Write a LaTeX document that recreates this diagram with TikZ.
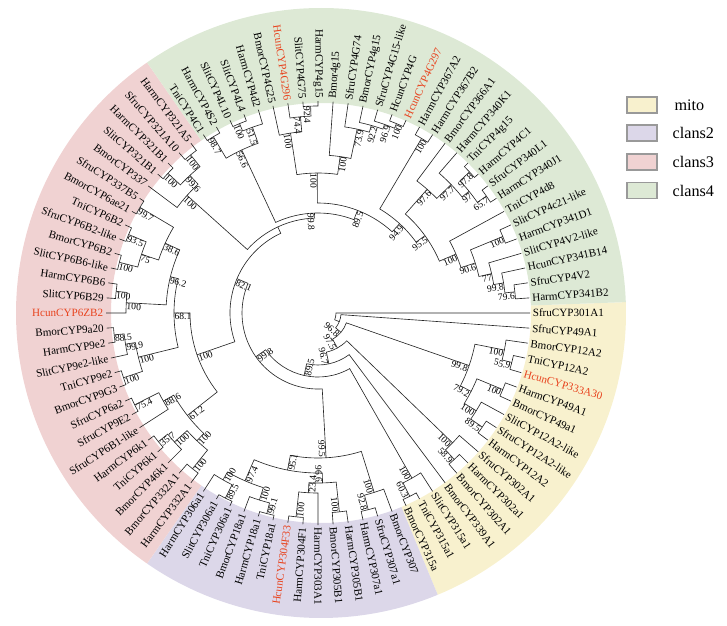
\documentclass[tikz,border=0pt]{standalone}
\usepackage{fontspec}
\setmainfont{Liberation Serif}
\usetikzlibrary{positioning}
\definecolor{mitocol}{HTML}{F8F1CE}
\definecolor{clantwo}{HTML}{DCD7E9}
\definecolor{clanthree}{HTML}{F0D2D2}
\definecolor{clanfour}{HTML}{DDE9D5}
\definecolor{hcunred}{HTML}{E8431E}

\begin{document}
\begin{tikzpicture}[
    x=0.025cm, y=0.025cm,
    br/.style={line width=0.45pt, draw=black!85},
    tip/.style={font=\fontsize{7.9}{9}\selectfont, inner sep=0.6pt, outer sep=0pt},
    boot/.style={font=\fontsize{6.8}{8}\selectfont, inner sep=0.4pt, outer sep=0pt},
    hcun/.style={text=hcunred},
    legbox/.style={draw=gray!80, line width=0.8pt, minimum width=0.75cm, minimum height=0.4cm, inner sep=0pt},
    legtxt/.style={font=\fontsize{11.5}{13}\selectfont, inner sep=0pt, anchor=west}
]
    \useasboundingbox (-318,-312) rectangle (409,313);

    % --- 1. macros ---
    % tip radius and label radius
    \newcommand{\tipR}{212}
    \newcommand{\labR}{214}

    % leaf: [style] name, index, text
    \newcommand{\tipleaf}[4][]{
        \pgfmathsetmacro{\lfang}{-(#3-1)*4.0909091}
        \expandafter\xdef\csname ta@#2\endcsname{\lfang}
        \coordinate (#2) at (\lfang:\tipR);
        \pgfmathtruncatemacro{\lfside}{(\lfang>-90.5)||(\lfang<-270.5)}
        \ifnum\lfside=1
            \node[tip, #1, rotate=\lfang, anchor=west] (#2t) at (\lfang:\labR) {#4};
        \else
            \pgfmathsetmacro{\lfrot}{\lfang+180}
            \node[tip, #1, rotate=\lfrot, anchor=east] (#2t) at (\lfang:\labR) {#4};
        \fi
    }

    % clade: name, child a, child b, radius, support
    \newcommand{\joinclade}[5]{
        \edef\cAng{\csname ta@#2\endcsname}
        \edef\cBng{\csname ta@#3\endcsname}
        \pgfmathsetmacro{\cMid}{(\cAng+\cBng)/2}
        \expandafter\xdef\csname ta@#1\endcsname{\cMid}
        \coordinate (#1) at (\cMid:#4);
        \draw[br] (#2) -- (\cAng:#4) arc[start angle=\cAng, end angle=\cBng, radius=#4] -- (#3);
        \if\relax\detokenize{#5}\relax\else
            \pgfmathtruncatemacro{\cSide}{(\cMid>-90.5)||(\cMid<-270.5)}
            \ifnum\cSide=1
                \node[boot, rotate=\cMid, anchor=north east] (#1b) at (#1) {#5};
            \else
                \pgfmathsetmacro{\cRot}{\cMid+180}
                \node[boot, rotate=\cRot, anchor=north west] (#1b) at (#1) {#5};
            \fi
        \fi
    }

    % coloured band: colour, from angle, to angle
    \newcommand{\clanband}[3]{
        \fill[#1, shift={(3,0)}] (#2:210) arc[start angle=#2, end angle=#3, radius=210]
            -- (#3:305) arc[start angle=#3, end angle=#2, radius=305] -- cycle;
    }

    % --- 2. bands ---
    \clanband{mitocol}{2.045}{-67.5}
    \clanband{clantwo}{-67.5}{-124.77}
    \clanband{clanthree}{-124.77}{-235.23}
    \clanband{clanfour}{-235.23}{-357.95}

    % --- 3. leaves ---
    % mito
    \tipleaf{lf1}{1}{SfruCYP301A1}
    \tipleaf{lf2}{2}{SfruCYP49A1}
    \tipleaf{lf3}{3}{BmorCYP12A2}
    \tipleaf{lf4}{4}{TniCYP12A2}
    \tipleaf[hcun]{lf5}{5}{HcunCYP333A30}
    \tipleaf{lf6}{6}{HarmCYP49A1}
    \tipleaf{lf7}{7}{BmorCYP49a1}
    \tipleaf{lf8}{8}{SlitCYP12A2-like}
    \tipleaf{lf9}{9}{SfruCYP12A2-like}
    \tipleaf{lf10}{10}{HarmCYP12A2}
    \tipleaf{lf11}{11}{SfruCYP302A1}
    \tipleaf{lf12}{12}{HarmCYP302a1}
    \tipleaf{lf13}{13}{BmorCYP302A1}
    \tipleaf{lf14}{14}{BmorCYP339A1}
    \tipleaf{lf15}{15}{SlitCYP315a1}
    \tipleaf{lf16}{16}{TniCYP315a1}
    \tipleaf{lf17}{17}{BmorCYP315a}
    % clans2
    \tipleaf{lf18}{18}{BmorCYP307}
    \tipleaf{lf19}{19}{SfruCYP307a1}
    \tipleaf{lf20}{20}{HarmCYP307a1}
    \tipleaf{lf21}{21}{HarmCYP305B1}
    \tipleaf{lf22}{22}{BmorCYP305B1}
    \tipleaf{lf23}{23}{HarmCYP303A1}
    \tipleaf{lf24}{24}{HarmCYP304F1}
    \tipleaf[hcun]{lf25}{25}{HcunCYP304F33}
    \tipleaf{lf26}{26}{TniCYP18a1}
    \tipleaf{lf27}{27}{HarmCYP18a1}
    \tipleaf{lf28}{28}{BmorCYP18a1}
    \tipleaf{lf29}{29}{TniCYP306a1}
    \tipleaf{lf30}{30}{SlitCYP306a1}
    \tipleaf{lf31}{31}{HarmCYP306a1}
    % clans3
    \tipleaf{lf32}{32}{HarmCYP332A1}
    \tipleaf{lf33}{33}{BmorCYP332A1}
    \tipleaf{lf34}{34}{BmorCYP46k1}
    \tipleaf{lf35}{35}{TniCYP6k1}
    \tipleaf{lf36}{36}{HarmCYP6k1}
    \tipleaf{lf37}{37}{SfruCYP6B1-like}
    \tipleaf{lf38}{38}{SfruCYP9E2}
    \tipleaf{lf39}{39}{SfruCYP6a2}
    \tipleaf{lf40}{40}{BmorCYP9G3}
    \tipleaf{lf41}{41}{TniCYP9e2}
    \tipleaf{lf42}{42}{SlitCYP9e2-like}
    \tipleaf{lf43}{43}{HarmCYP9e2}
    \tipleaf{lf44}{44}{BmorCYP9a20}
    \tipleaf[hcun]{lf45}{45}{HcunCYP6ZB2}
    \tipleaf{lf46}{46}{SlitCYP6B29}
    \tipleaf{lf47}{47}{HarmCYP6B6}
    \tipleaf{lf48}{48}{SlitCYP6B6-like}
    \tipleaf{lf49}{49}{BmorCYP6B2}
    \tipleaf{lf50}{50}{SfruCYP6B2-like}
    \tipleaf{lf51}{51}{TniCYP6B2}
    \tipleaf{lf52}{52}{BmorCYP6ae21}
    \tipleaf{lf53}{53}{SfruCYP337B5}
    \tipleaf{lf54}{54}{BmorCYP337}
    \tipleaf{lf55}{55}{SlitCYP321B1}
    \tipleaf{lf56}{56}{HarmCYP321B1}
    \tipleaf{lf57}{57}{SfruCYP321A10}
    \tipleaf{lf58}{58}{HarmCYP321A5}
    % clans4
    \tipleaf{lf59}{59}{TniCYP4C1}
    \tipleaf{lf60}{60}{HarmCYP4S2}
    \tipleaf{lf61}{61}{SlitCYP4L10}
    \tipleaf{lf62}{62}{SlitCYP4L4}
    \tipleaf{lf63}{63}{HarmCYP4d2}
    \tipleaf{lf64}{64}{BmorCYP4G25}
    \tipleaf[hcun]{lf65}{65}{HcunCYP4G296}
    \tipleaf{lf66}{66}{SlitCYP4G75}
    \tipleaf{lf67}{67}{HarmCYP4g15}
    \tipleaf{lf68}{68}{Bmor4g15}
    \tipleaf{lf69}{69}{SfruCYP4G74}
    \tipleaf{lf70}{70}{BmorCYP4g15}
    \tipleaf{lf71}{71}{SfruCYP4G15-like}
    \tipleaf{lf72}{72}{HcunCYP4G}
    \tipleaf[hcun]{lf73}{73}{HcunCYP4G297}
    \tipleaf{lf74}{74}{HarmCYP367A2}
    \tipleaf{lf75}{75}{HarmCYP367B2}
    \tipleaf{lf76}{76}{BmorCYP366A1}
    \tipleaf{lf77}{77}{HarmCYP340K1}
    \tipleaf{lf78}{78}{TniCYP4g15}
    \tipleaf{lf79}{79}{HarmCYP4C1}
    \tipleaf{lf80}{80}{SfruCYP340L1}
    \tipleaf{lf81}{81}{HarmCYP340J1}
    \tipleaf{lf82}{82}{TniCYP4d8}
    \tipleaf{lf83}{83}{SlitCYP4c21-like}
    \tipleaf{lf84}{84}{HarmCYP341D1}
    \tipleaf{lf85}{85}{SlitCYP4V2-like}
    \tipleaf{lf86}{86}{HcunCYP341B14}
    \tipleaf{lf87}{87}{SfruCYP4V2}
    \tipleaf{lf88}{88}{HarmCYP341B2}

    % --- 4. clades ---
    % mito
    \joinclade{mA}{lf4}{lf5}{200}{55.9}
    \joinclade{mB}{lf3}{mA}{190}{100}
    \joinclade{mC}{lf6}{lf7}{200}{100}
    \joinclade{mD}{lf9}{lf10}{200}{89.5}
    \joinclade{mE}{lf8}{mD}{186}{100}
    \joinclade{mF}{mC}{mE}{172}{79.2}
    \joinclade{mG}{mB}{mF}{160}{99.8}
    \joinclade{mH}{lf12}{lf13}{200}{58.9}
    \joinclade{mI}{lf11}{mH}{187}{100}
    \joinclade{mJ}{lf16}{lf17}{205}{60.3}
    \joinclade{mK}{lf15}{mJ}{190}{100}
    % clans2
    \joinclade{bA}{lf19}{lf20}{203}{92.8}
    \joinclade{bB}{lf18}{bA}{188}{100}
    \joinclade{bC}{lf21}{lf22}{200}{100}
    \joinclade{bD}{lf24}{lf25}{205}{100}
    \joinclade{bE}{lf23}{bD}{180}{23.4}
    \joinclade{bF}{bC}{bE}{170}{96.6}
    \joinclade{bG}{lf26}{lf27}{207}{99.1}
    \joinclade{bH}{bG}{lf28}{196}{100}
    \joinclade{bI}{lf29}{lf30}{207}{89.5}
    \joinclade{bJ}{bI}{lf31}{192}{100}
    \joinclade{bK}{bH}{bJ}{183}{97.4}
    \joinclade{bL}{bF}{bK}{160}{95.1}
    \joinclade{bM}{bB}{bL}{145}{99.5}
    % clans3
    \joinclade{cA}{lf32}{lf33}{200}{100}
    \joinclade{cB}{lf35}{lf36}{205}{35.7}
    \joinclade{cC}{lf34}{cB}{193}{100}
    \joinclade{cD}{cA}{cC}{176}{100}
    \joinclade{cE}{lf38}{lf39}{205}{75.4}
    \joinclade{cF}{lf37}{cE}{178}{88.6}
    \joinclade{cG}{cD}{cF}{166}{61.2}
    \joinclade{cH}{lf40}{lf41}{205}{100}
    \joinclade{cI}{lf43}{lf44}{205}{88.5}
    \joinclade{cJ}{lf42}{cI}{195}{99.9}
    \joinclade{cK}{cH}{cJ}{185}{100}
    \joinclade{cL}{lf46}{lf47}{203}{100}
    \joinclade{cM}{lf45}{cL}{192}{100}
    \joinclade{cN}{lf48}{lf49}{205}{100}
    \joinclade{cO}{lf50}{lf51}{205}{93.5}
    \joinclade{cP}{cN}{cO}{186}{75}
    \joinclade{cQ}{lf52}{lf53}{207}{99.7}
    \joinclade{cR}{cP}{cQ}{168}{38.6}
    \joinclade{cS}{cM}{cR}{152}{96.2}
    \joinclade{cT}{cK}{cS}{144}{68.1}
    \joinclade{cU}{cG}{cT}{128}{100}
    \joinclade{cV}{lf55}{lf56}{205}{100}
    \joinclade{cW}{lf57}{lf58}{203}{100}
    \joinclade{cX}{cV}{cW}{188}{99.6}
    \joinclade{cY}{lf54}{cX}{176}{100}
    % clans4
    \joinclade{dA}{lf59}{lf60}{205}{98.7}
    \joinclade{dB}{lf61}{lf62}{205}{100}
    \joinclade{dC}{dB}{lf63}{197}{51.5}
    \joinclade{dD}{dA}{dC}{180}{56.6}
    \joinclade{dE}{lf66}{lf67}{207}{92.4}
    \joinclade{dF}{lf65}{dE}{197}{74.4}
    \joinclade{dG}{lf64}{dF}{182}{100}
    \joinclade{dH}{lf72}{lf73}{205}{100}
    \joinclade{dI}{lf71}{dH}{200}{96.9}
    \joinclade{dJ}{lf70}{dI}{195}{92.2}
    \joinclade{dK}{lf69}{dJ}{188}{73.9}
    \joinclade{dL}{lf68}{dK}{158}{100}
    \joinclade{dM}{dG}{dL}{140}{100}
    \joinclade{dN}{lf74}{lf75}{203}{100}
    \joinclade{dO}{lf78}{lf79}{207}{97.8}
    \joinclade{dP}{lf80}{lf81}{205}{65.7}
    \joinclade{dQ}{dO}{dP}{194}{97}
    \joinclade{dR}{lf77}{dQ}{185}{97.7}
    \joinclade{dS}{lf76}{dR}{165}{97.6}
    \joinclade{dT}{lf87}{lf88}{198}{79.6}
    \joinclade{dU}{lf86}{dT}{188}{99.8}
    \joinclade{dV}{lf85}{dU}{178}{77}
    \joinclade{dW}{lf83}{lf84}{200}{100}
    \joinclade{dX}{dW}{dV}{165}{90.6}
    \joinclade{dY}{lf82}{dX}{150}{100}
    \joinclade{dZ}{dS}{dY}{132}{95.5}
    \joinclade{dAA}{dN}{dZ}{121}{94.9}
    \joinclade{dAB}{dM}{dAA}{110}{89.5}
    \joinclade{dAC}{dD}{dAB}{100}{99.8}
    % backbone
    \joinclade{rW}{cY}{dAC}{95}{}
    \joinclade{rY}{cU}{rW}{88}{82.1}
    \joinclade{rX}{bM}{rY}{76}{99.8}
    \joinclade{rE}{mK}{rX}{64}{89.5}
    \joinclade{rD}{lf14}{rE}{52}{96.7}
    \joinclade{rC}{mI}{rD}{40}{97.5}
    \joinclade{rB}{mG}{rC}{30}{96.8}
    \joinclade{rA}{lf2}{rB}{23}{}
    \joinclade{rO}{lf1}{rA}{18}{}

    % --- 5. legend ---
    \node[legbox, fill=mitocol] (keymito) at (324,208) {};
    \node[legbox, fill=clantwo] (keytwo) at (324,180) {};
    \node[legbox, fill=clanthree] (keythree) at (324,151) {};
    \node[legbox, fill=clanfour] (keyfour) at (324,122.5) {};
    \node[legtxt, right=0.42cm of keymito] (txtmito) {mito};
    \node[legtxt, right=0.37cm of keytwo] (txttwo) {clans2};
    \node[legtxt, right=0.37cm of keythree] (txtthree) {clans3};
    \node[legtxt, right=0.37cm of keyfour] (txtfour) {clans4};

\end{tikzpicture}
\end{document}
